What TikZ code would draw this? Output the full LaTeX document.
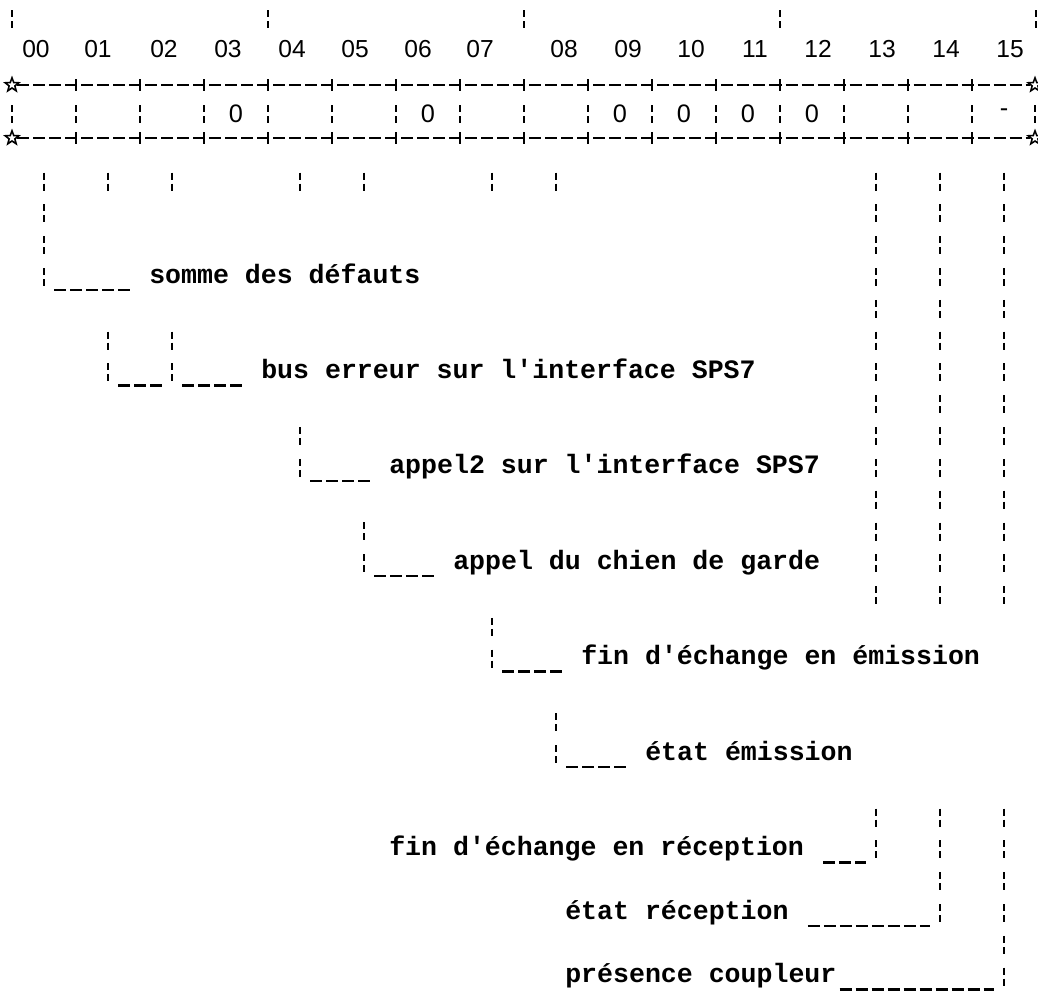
\documentclass[tikz,border=0pt]{standalone}
\usepackage{fontspec}
\setmonofont{Liberation Mono}
\newfontfamily\digits{Liberation Sans}
\usetikzlibrary{shapes.geometric, calc}
\tikzset{vbar/.style={line width=1.8pt, dash pattern=on 0.175cm off 0.1cm on 0.175cm off 0.345cm}}
\tikzset{ubar/.style={line width=1.8pt, dash pattern=on 0.3cm off 0.1cm}}
\tikzset{lbl/.style={anchor=base west, inner sep=0pt, font=\ttfamily\bfseries\fontsize{18.9pt}{22pt}\selectfont}}
\tikzset{num/.style={inner sep=0pt, font=\digits\fontsize{17.5pt}{20pt}\selectfont}}
\tikzset{bitval/.style={inner sep=0pt, font=\digits\fontsize{18pt}{20pt}\selectfont}}
\tikzset{corner/.style={star, star points=5, star point ratio=2.4, draw, inner sep=0pt, minimum size=0.36cm, line width=1.1pt}}

\begin{document}
\begin{tikzpicture}[x=0.025cm, y=-0.025cm, line width=1.8pt]
    \useasboundingbox (0,0) rectangle (1038,993);
% Column ticks
    \draw[vbar] (12,10) -- (12,28) (268,10) -- (268,28) (524,10) -- (524,28)
        (780,10) -- (780,28) (1036,10) -- (1036,28);
% Bit numbers
    \node[num] (n00) at (36,49) {00};
    \node[num] (n01) at (98,49) {01};
    \node[num] (n02) at (164,49) {02};
    \node[num] (n03) at (228,49) {03};
    \node[num] (n04) at (292,49) {04};
    \node[num] (n05) at (355,49) {05};
    \node[num] (n06) at (418,49) {06};
    \node[num] (n07) at (480,49) {07};
    \node[num] (n08) at (564,49) {08};
    \node[num] (n09) at (628,49) {09};
    \node[num] (n10) at (691,49) {10};
    \node[num] (n11) at (755,49) {11};
    \node[num] (n12) at (818,49) {12};
    \node[num] (n13) at (882,49) {13};
    \node[num] (n14) at (946,49) {14};
    \node[num] (n15) at (1010,49) {15};
% Register
    \node[corner] (tl) at (12,85) {};
    \node[corner] (tr) at (1035,85) {};
    \node[corner] (bl) at (12,138) {};
    \node[corner] (br) at (1035,138) {};
    \draw[ubar] (tl) -- (tr);
    \draw[ubar] (bl) -- (br);
    \draw (76,79) -- (76,91) (140,79) -- (140,91) (204,79) -- (204,91) (268,79) -- (268,91)
        (332,79) -- (332,91) (396,79) -- (396,91) (460,79) -- (460,91) (524,79) -- (524,91)
        (588,79) -- (588,91) (652,79) -- (652,91) (716,79) -- (716,91) (780,79) -- (780,91)
        (844,79) -- (844,91) (908,79) -- (908,91) (972,79) -- (972,91);
    \draw (76,132) -- (76,144) (140,132) -- (140,144) (204,132) -- (204,144) (268,132) -- (268,144)
        (332,132) -- (332,144) (396,132) -- (396,144) (460,132) -- (460,144) (524,132) -- (524,144)
        (588,132) -- (588,144) (652,132) -- (652,144) (716,132) -- (716,144) (780,132) -- (780,144)
        (844,132) -- (844,144) (908,132) -- (908,144) (972,132) -- (972,144);
    \draw[vbar] (12,105) -- (12,123) (76,105) -- (76,123) (140,105) -- (140,123) (204,105) -- (204,123)
        (268,105) -- (268,123) (332,105) -- (332,123) (396,105) -- (396,123) (460,105) -- (460,123)
        (524,105) -- (524,123) (588,105) -- (588,123) (652,105) -- (652,123) (716,105) -- (716,123)
        (780,105) -- (780,123) (844,105) -- (844,123) (908,105) -- (908,123) (972,105) -- (972,123)
        (1035,105) -- (1035,123);
% Fixed bit values
    \node[bitval] (z03) at (236,114) {0};
    \node[bitval] (z06) at (428,114) {0};
    \node[bitval] (z09) at (620,114) {0};
    \node[bitval] (z10) at (684,114) {0};
    \node[bitval] (z11) at (748,114) {0};
    \node[bitval] (z12) at (812,114) {0};
    \node[bitval] (m15) at (1004,113) {-};
% Stubs under the register
    \draw[vbar] (108,172.6) -- (108,190.6) (172,172.6) -- (172,190.6) (300,172.6) -- (300,190.6)
        (364,172.6) -- (364,190.6) (492,172.6) -- (492,190.6) (556,172.6) -- (556,190.6);
% Labels
    \node[lbl] (somme) at (148,283) {somme des défauts};
    \node[lbl] (bus) at (260,378.4) {bus erreur sur l'interface SPS7};
    \node[lbl] (appel2) at (388,473.8) {appel2 sur l'interface SPS7};
    \node[lbl] (chien) at (452,569.2) {appel du chien de garde};
    \node[lbl] (finem) at (580,664.6) {fin d'échange en émission};
    \node[lbl] (etatem) at (644,760) {état émission};
    \node[lbl] (finrec) at (388,855.4) {fin d'échange en réception};
    \node[lbl] (etatrec) at (564,919) {état réception};
    \node[lbl] (presence) at (564,982.6) {présence coupleur};
% Leaders, left side
    \coordinate (foot00) at (44,286);
    \coordinate (foot01) at (108,381.4);
    \coordinate (foot02) at (172,381.4);
    \coordinate (foot04) at (300,476.8);
    \coordinate (foot05) at (364,572.2);
    \coordinate (foot07) at (492,667.6);
    \coordinate (foot08) at (556,763);
    \draw[vbar] (44,172.6) -- (foot00);
    \draw[vbar] (108,331.6) -- (foot01);
    \draw[vbar] (172,331.6) -- (foot02);
    \draw[vbar] (300,427) -- (foot04);
    \draw[vbar] (364,522.4) -- (foot05);
    \draw[vbar] (492,617.8) -- (foot07);
    \draw[vbar] (556,713.2) -- (foot08);
    \draw[ubar] ($(foot00)+(10,4)$) -- ($(somme.base west)+(-18,7)$);
    \draw[ubar] ($(foot01)+(10,4)$) -- ($(foot02)+(-10,4)$);
    \draw[ubar] ($(foot02)+(10,4)$) -- ($(bus.base west)+(-18,7)$);
    \draw[ubar] ($(foot04)+(10,4)$) -- ($(appel2.base west)+(-18,7)$);
    \draw[ubar] ($(foot05)+(10,4)$) -- ($(chien.base west)+(-18,7)$);
    \draw[ubar] ($(foot07)+(10,4)$) -- ($(finem.base west)+(-18,7)$);
    \draw[ubar] ($(foot08)+(10,4)$) -- ($(etatem.base west)+(-18,7)$);
% Leaders, right side
    \coordinate (foot13) at (876,858.4);
    \coordinate (foot14) at (940,922);
    \coordinate (foot15) at (1004,985.6);
    \draw[vbar] (876,172.6) -- (876,604) (940,172.6) -- (940,604) (1004,172.6) -- (1004,604);
    \draw[vbar] (876,808.6) -- (foot13);
    \draw[vbar] (940,808.6) -- (foot14);
    \draw[vbar] (1004,808.6) -- (foot15);
    \draw[ubar] ($(finrec.base east)+(18,7)$) -- ($(foot13)+(-10,4)$);
    \draw[ubar] ($(etatrec.base east)+(18,7)$) -- ($(foot14)+(-10,4)$);
    \draw[ubar] ($(presence.base east)+(2,7)$) -- ($(foot15)+(-10,4)$);
\end{tikzpicture}
\end{document}
